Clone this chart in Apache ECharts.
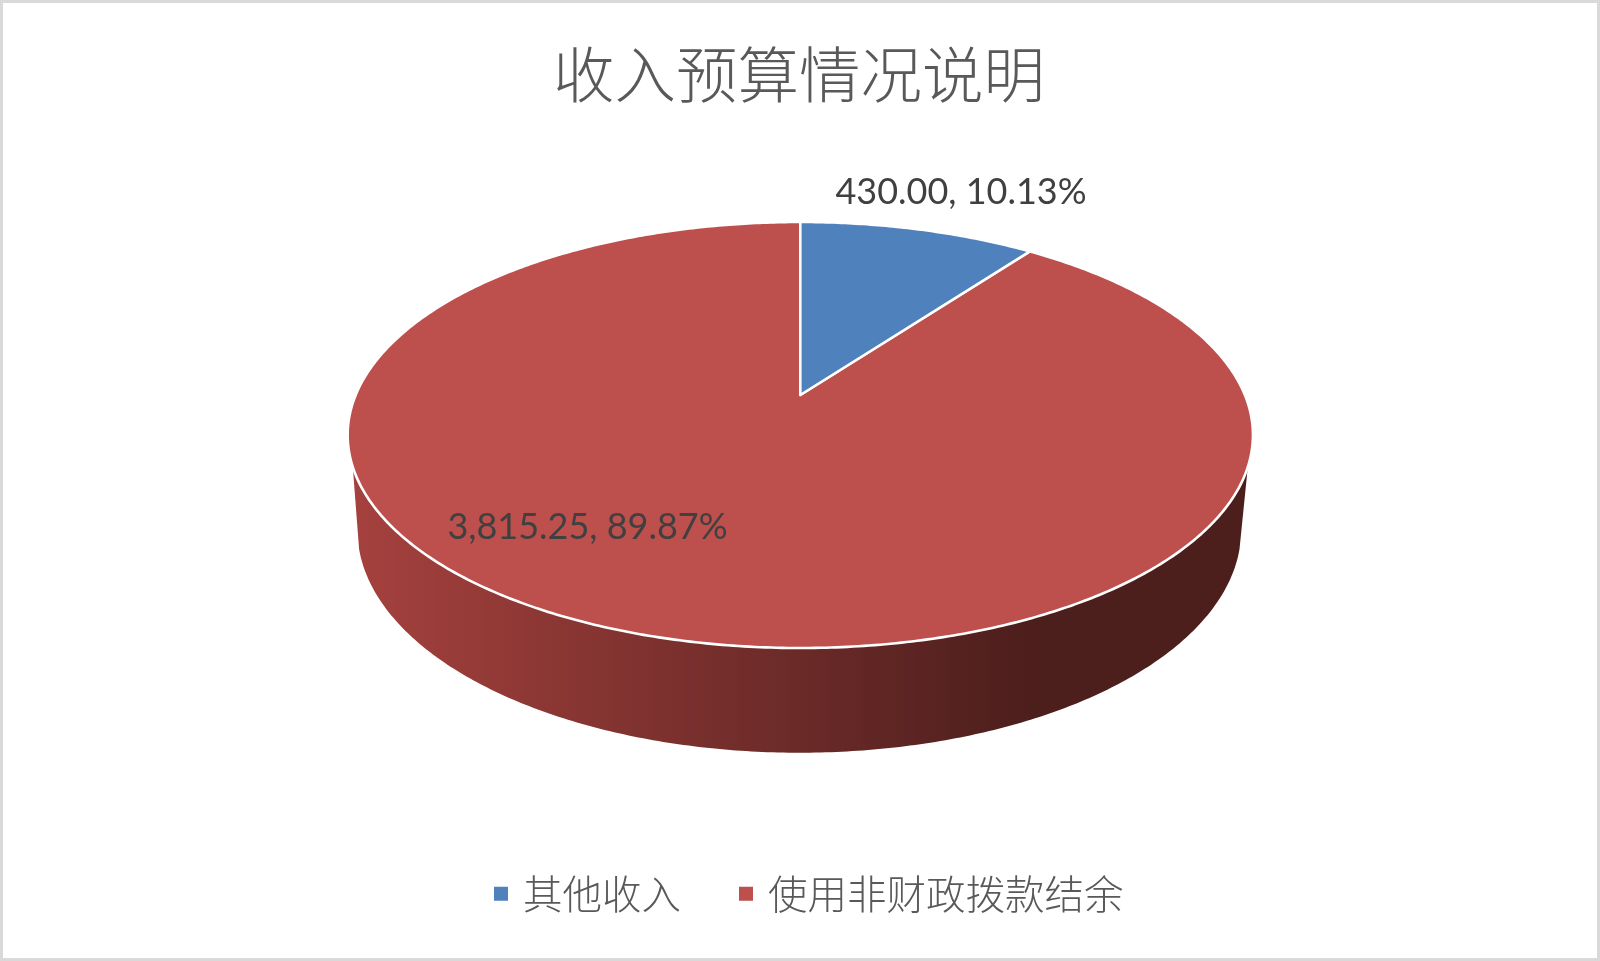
<!DOCTYPE html>
<html><head><meta charset="utf-8">
<style>html,body{margin:0;padding:0;background:#fff}#c{width:1600px;height:961px}</style>
<script src="https://cdn.jsdelivr.net/npm/echarts@6/dist/echarts.min.js"></script>
</head><body><div id="c"></div>
<script>
const titleText = '收入预算情况说明';
const categories = ['其他收入', '使用非财政拨款结余'];
const values = [430.00, 3815.25];
const colors = ['#4f81bd', '#bd4f4d'];

const total = values.reduce((a, b) => a + b, 0);
const CJK = '"Noto Sans CJK SC","Noto Sans",sans-serif';
const LAT = 'Lato,"Noto Sans",sans-serif';
const k = 0.1878;
const TOP = {cx: 800.3, y0: 395, A: 444.6, B: 205.5};
const BASE = {cx: 799.3, y0: 488, A: 434, B: 215};
const WALL_V = -0.3288, BASE_V = -0.2694;
const labelPos = [[961.5, 192], [588, 527]];

function proj(d, t) {
  const u = Math.sin(t), v = Math.cos(t), w = 1 + k * v;
  return [d.cx + d.A * u / w, d.y0 - d.B * v / w];
}
function arc(d, a, b) {
  const n = Math.max(2, Math.ceil(Math.abs(b - a) / 0.01)), out = [];
  for (let i = 0; i <= n; i++) out.push(proj(d, a + (b - a) * i / n));
  return out;
}
const TAU = Math.PI * 2;
const wallA = Math.acos(WALL_V), wallB = TAU - wallA;
const baseA = Math.acos(BASE_V), baseB = TAU - baseA;

function renderSlice(params, api) {
  const a = api.value(0) / total * TAU, b = api.value(1) / total * TAU, val = (api.value(1) - api.value(0));
  const kids = [];
  if (b > wallA && a < wallB) {
    const s = Math.max(a, wallA), e = Math.min(b, wallB);
    const bs = a <= wallA ? baseA : a, be = b >= wallB ? baseB : b;
    const pts = arc(TOP, s, e).concat(arc(BASE, be, bs));
    kids.push({
      type: 'polygon', shape: {points: pts},
      style: {fill: new echarts.graphic.LinearGradient(0, 0, 1, 0, [
        {offset: 0, color: '#a5413e'}, {offset: 0.76, color: '#4c1e1c'}, {offset: 1, color: '#4c1e1c'}]), stroke: null}
    });
  }
  kids.push({
    type: 'polygon', shape: {points: [[TOP.cx, TOP.y0]].concat(arc(TOP, a, b))},
    style: {fill: colors[params.seriesIndex], stroke: '#fff', lineWidth: 2.6, lineJoin: 'round'}
  });
  const p = labelPos[params.seriesIndex];
  kids.push({
    type: 'text', z2: 10,
    style: {
      text: val.toLocaleString('en-US', {minimumFractionDigits: 2, maximumFractionDigits: 2}) + ', ' + (val / total * 100).toFixed(2) + '%',
      x: p[0] - 0.5, y: p[1], align: 'center', verticalAlign: 'middle',
      font: '36px ' + LAT, fill: '#404040'
    }
  });
  return {type: 'group', children: kids};
}

let acc = 0;
const series = categories.map((name, i) => {
  const start = acc; acc += values[i];
  return {
    name, type: 'custom', coordinateSystem: 'none', renderItem: renderSlice,
    silent: true, animation: false, z: i === 0 ? 3 : 2,
    itemStyle: {color: colors[i]},
    data: [[start, acc]]
  };
});

const chart = echarts.init(document.getElementById('c'));
chart.setOption({
  animation: false,
  backgroundColor: '#fff',
  title: {text: titleText, left: 794, top: 39, textAlign: 'center',
    textStyle: {fontFamily: CJK, fontSize: 61.5, fontWeight: 300, color: '#595959'}},
  legend: {data: categories, left: 489, top: 869, icon: 'rect', itemWidth: 14, itemHeight: 14, itemGap: 58, selectedMode: false,
    textStyle: {fontFamily: CJK, fontSize: 39.5, fontWeight: 300, color: '#595959', padding: [0, 0, 0, 10]}},
  graphic: [{type: 'rect', z: 100, silent: true, shape: {x: 1.5, y: 1.5, width: 1597, height: 958}, style: {fill: null, stroke: '#d9d9d9', lineWidth: 3}}],
  series
});
</script></body></html>
